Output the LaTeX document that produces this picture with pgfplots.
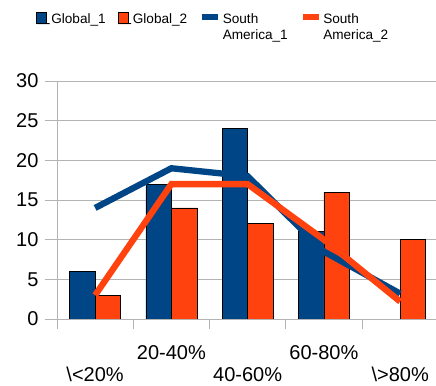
\documentclass[border=0pt]{standalone}
\usepackage{pgfplots}
\pgfplotsset{compat=1.18}
\usepackage{fontspec}
\setmainfont{Liberation Sans}
\definecolor{cblue}{HTML}{004586}
\definecolor{corange}{HTML}{FF420E}
\definecolor{cgrid}{HTML}{B3B3B3}
\newcommand{\twoline}[2]{\begin{tabular}[t]{@{}l@{}}#1\\#2\end{tabular}}
\begin{document}
\begin{tikzpicture}
\begin{axis}[
  scale only axis, width=379pt, height=238pt,
  xmin=-0.5, xmax=4.47, ymin=0, ymax=30,
  axis x line*=bottom, axis y line*=left,
  axis line style={draw=cgrid, line width=0.8pt},
  ytick={0,5,...,30},
  ymajorgrids, grid style={cgrid, line width=0.8pt},
  tick align=outside,
  ytick style={draw=cgrid, line width=0.8pt},
  major tick length=12pt,
  xtick={0,1,2,3,4},
  xtick style={draw=none},
  xticklabels={\raisebox{-22pt}{\textbackslash<20\%}, 20-40\%, \raisebox{-22pt}{40-60\%}, 60-80\%, \raisebox{-22pt}{\textbackslash>80\%}},
  xticklabel style={anchor=base, yshift=-29pt},
  yticklabel style={xshift=-3pt},
  extra x ticks={-0.5,0.5,1.5,2.5,3.5},
  extra x tick labels={},
  extra x tick style={xtick style={draw=cgrid, line width=0.8pt}, major tick length=10pt, grid=none},
  tick label style={font=\fontsize{20}{24}\selectfont},
  /pgf/number format/assume math mode=true,
  no markers,
  legend columns=4,
  legend style={draw=none, fill=none, at={(axis description cs:-0.0554,1.29)}, anchor=north west, inner sep=0pt,
    font=\fontsize{13.6}{16}\selectfont, cells={anchor=base west}, nodes={inner sep=0pt},
    /tikz/every even column/.append style={column sep=12pt},
    /tikz/every odd column/.append style={column sep=1.5pt}},
]
\addplot[ybar, bar width=0.335, bar shift=-0.1675, fill=cblue, draw=black, line width=0.6pt,
  legend image code/.code={\path (0pt,0pt) rectangle (13pt,0pt); \draw[fill=cblue, draw=black, line width=0.6pt] (0pt,0.7pt) rectangle (10pt,11.3pt);}]
  coordinates {(0,6) (1,17) (2,24) (3,11)};
\addlegendentry{Global\_1}
\addplot[ybar, bar width=0.335, bar shift=0.1675, fill=corange, draw=black, line width=0.6pt,
  legend image code/.code={\path (0pt,0pt) rectangle (13pt,0pt); \draw[fill=corange, draw=black, line width=0.6pt] (0pt,0.7pt) rectangle (10pt,11.3pt);}]
  coordinates {(0,3) (1,14) (2,12) (3,16) (4,10)};
\addlegendentry{Global\_2}
\addplot[cblue, line width=6.3pt,
  legend image code/.code={\draw[cblue, line width=6pt] (0pt,7pt) -- (16pt,7pt);}]
  coordinates {(0,14) (1,19) (2,18) (3,8.5) (4,3.2)};
\addlegendentry{\twoline{South}{America\_1}}
\addplot[corange, line width=6.3pt,
  legend image code/.code={\draw[corange, line width=6pt] (0pt,7pt) -- (16pt,7pt);}]
  coordinates {(0,3) (1,17) (2,17) (3,10) (4,2.2)};
\addlegendentry{\twoline{South}{America\_2}}
\end{axis}
\pgfresetboundingbox
\useasboundingbox ([xshift=-57pt,yshift=-67pt]current axis.south west) rectangle ([yshift=81pt]current axis.north east);
\end{tikzpicture}
\end{document}
